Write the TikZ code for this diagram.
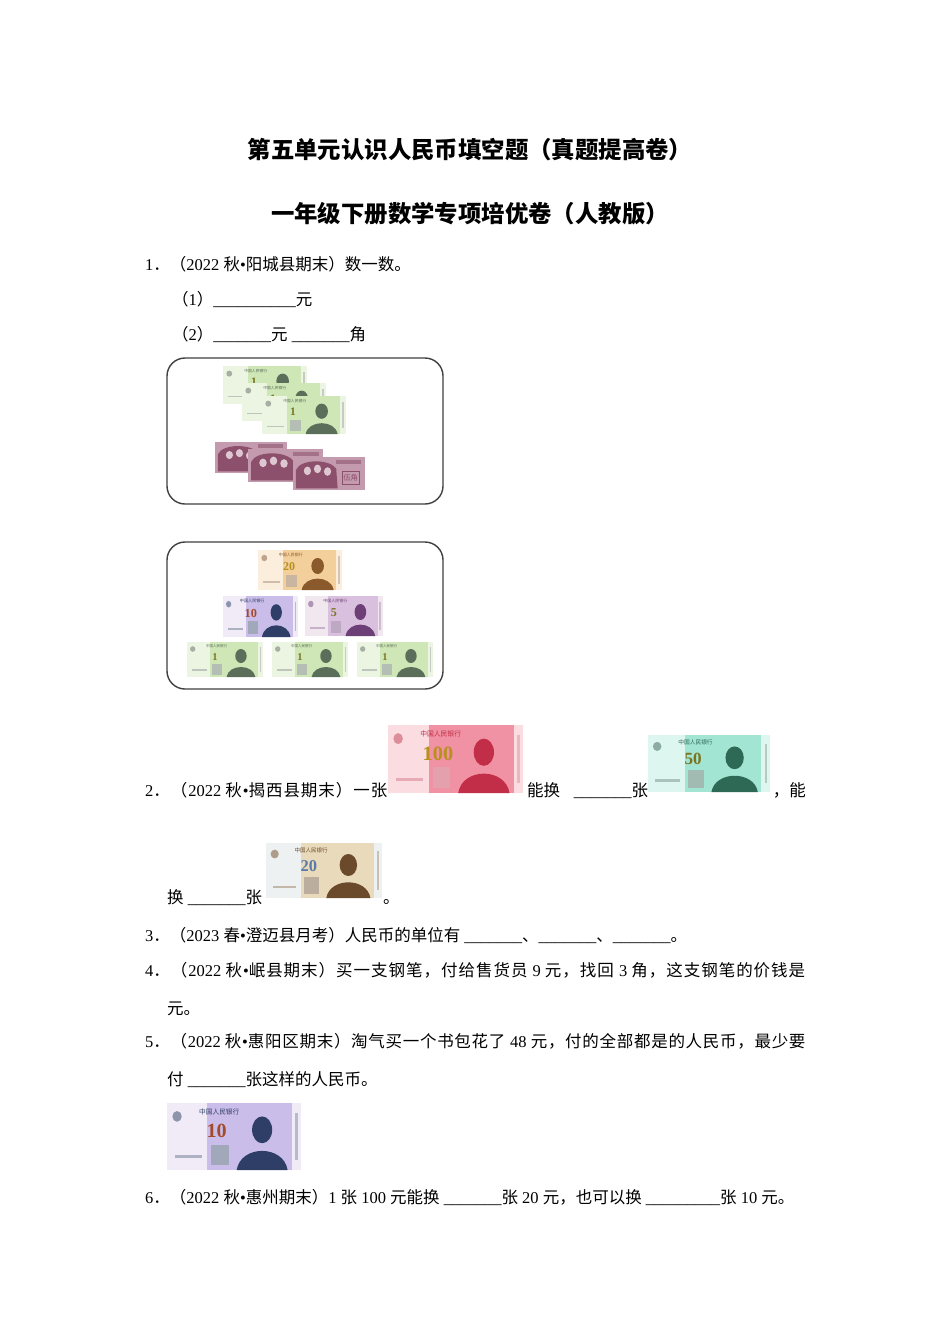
\documentclass[tikz,border=0pt]{standalone}
\usepackage{fontspec}
\setmainfont{Liberation Serif}
\newfontfamily\cj{Noto Sans CJK SC}
\newcommand{\zh}[1]{{\cj #1}}
\def\zs#1{\zsA#1\relax}
\def\zsA#1{\ifx#1\relax\else#1\hskip0pt plus 1pt\expandafter\zsA\fi}
\newcommand{\fsp}{\hskip 4.1pt\relax}
\newcommand{\bl}{\_\_\_\_\_\_\_}
\definecolor{oneL}{HTML}{ECF5E2}\definecolor{oneM}{HTML}{CFE6B6}\definecolor{oneD}{HTML}{5B6E5A}
\definecolor{twL}{HTML}{FBEEDC}\definecolor{twM}{HTML}{F3CF9C}\definecolor{twD}{HTML}{8A5A2C}
\definecolor{tenL}{HTML}{F0EBF7}\definecolor{tenM}{HTML}{CBBDEA}\definecolor{tenD}{HTML}{2F3E66}
\definecolor{fiveL}{HTML}{F1E7EF}\definecolor{fiveM}{HTML}{DAC0DF}\definecolor{fiveD}{HTML}{6D3F77}
\definecolor{hunL}{HTML}{FADCE1}\definecolor{hunM}{HTML}{F092A3}\definecolor{hunD}{HTML}{C22E48}
\definecolor{fifL}{HTML}{DDF6F0}\definecolor{fifM}{HTML}{A2E5D3}\definecolor{fifD}{HTML}{2E6955}
\definecolor{otwL}{HTML}{EEF1F1}\definecolor{otwM}{HTML}{E8DABA}\definecolor{otwD}{HTML}{6A4A2A}
\definecolor{jiaobg}{HTML}{C49AAE}\definecolor{jiaodk}{HTML}{8C4F6C}
\definecolor{gold}{HTML}{B8901E}\definecolor{brick}{HTML}{A24A2A}\definecolor{olive}{HTML}{7A7420}\definecolor{steel}{HTML}{5A7AA8}
% #1 name #2 x #3 y #4 w #5 h #6 light #7 mid #8 dark #9 label
\newcommand{\rmb}[9]{%
\begin{scope}[shift={(#2,#3)},x={(#4pt,0pt)},y={(0pt,-#5pt)}]
\pgfmathsetmacro\numsz{0.3*#5}
\pgfmathsetmacro\topsz{0.1*#5}
\fill[#6] (0,0) rectangle (1,1);
\fill[#7] (0.3,0) rectangle (0.93,1);
\fill[#8!55] (0.075,0.2) ellipse[x radius=0.035,y radius=0.08];
\fill[#8!45] (0.33,0.62) rectangle (0.46,0.93);
\fill[#8] (0.71,0.4) ellipse[x radius=0.075,y radius=0.2];
\fill[#8] (0.52,1) .. controls (0.55,0.62) and (0.87,0.62) .. (0.9,1) -- cycle;
\fill[#8!35] (0.955,0.15) rectangle (0.975,0.85);
\fill[#8!40] (0.06,0.78) rectangle (0.26,0.82);
\node[inner sep=0pt,font=\fontsize{\topsz}{\topsz}\selectfont\cj,text=#8] (#1t) at (0.39,0.13) {中国人民银行};
\node[inner sep=0pt,font=\fontsize{\numsz}{\numsz}\selectfont\bfseries] (#1) at (0.37,0.42) {#9};
\end{scope}}
\newcommand{\jiao}[5]{%
\begin{scope}[shift={(#2,#3)},x={(#4pt,0pt)},y={(0pt,-#5pt)}]
\pgfmathsetmacro\jsz{0.22*#5}
\fill[jiaobg] (0,0) rectangle (1,1);
\fill[jiaodk] (0.04,0.4) .. controls (0.1,0.05) and (0.5,0.05) .. (0.6,0.35) -- (0.62,0.95) -- (0.04,0.95) -- cycle;
\fill[jiaobg!55!white] (0.2,0.42) ellipse[x radius=0.05,y radius=0.13];
\fill[jiaobg!55!white] (0.34,0.36) ellipse[x radius=0.05,y radius=0.13];
\fill[jiaobg!55!white] (0.48,0.44) ellipse[x radius=0.05,y radius=0.13];
\fill[jiaodk!80] (0.6,0.08) rectangle (0.95,0.2);
\draw[jiaodk,line width=0.4pt] (0.68,0.42) rectangle (0.92,0.82);
\node[inner sep=0pt,font=\fontsize{\jsz}{\jsz}\selectfont\cj,text=jiaodk] (#1) at (0.8,0.62) {伍角};
\end{scope}}
\tikzset{txt/.style={anchor=base west,inner sep=0pt,font=\fontsize{16.5}{20}\selectfont},
 ttl/.style={inner sep=0pt,font=\fontsize{23.4}{28}\selectfont\cj\bfseries},
 frame/.style={rounded corners=18pt,line width=1.4pt,draw=black!75}}
\begin{document}
\begin{tikzpicture}[x=1pt,y=-1pt]
\useasboundingbox (0,0) rectangle (950,1344);
\fill[white] (0,0) rectangle (950,1344);
% titles
\node[ttl] (t1) at (470,150) {第五单元认识人民币填空题（真题提高卷）};
\node[ttl] (t2) at (470,214) {一年级下册数学专项培优卷（人教版）};
% Q1
\node[txt] (q1) at (145,270) {1\zh{．（}2022 \zh{秋}•\zh{阳城县期末）数一数。}};
\node[txt] (q1a) at (172,305) {\zh{（}1\zh{）}\_\_\_\_\_\_\_\_\_\_\zh{元}};
\node[txt] (q1b) at (172,340) {\zh{（}2\zh{）}\bl\zh{元} \bl\zh{角}};
\draw[frame] (167,358) rectangle (443,504);
\rmb{a1}{223}{366}{84}{38}{oneL}{oneM}{oneD}{\color{olive}1}
\rmb{a2}{242}{383}{84}{38}{oneL}{oneM}{oneD}{\color{olive}1}
\rmb{a3}{262}{396}{84}{38}{oneL}{oneM}{oneD}{\color{olive}1}
\jiao{j1}{215}{442}{72}{31}
\jiao{j2}{248}{449}{75}{33}
\jiao{j3}{293}{457}{72}{33}
\draw[frame] (167,542) rectangle (443,689);
\rmb{b20}{258}{550}{84}{40}{twL}{twM}{twD}{\color{gold}20}
\rmb{b10}{223}{596}{75}{41}{tenL}{tenM}{tenD}{\color{brick}10}
\rmb{b5}{305}{596}{78}{40}{fiveL}{fiveM}{fiveD}{\color{olive}5}
\rmb{c1}{187}{642}{76}{35}{oneL}{oneM}{oneD}{\color{olive}1}
\rmb{c2}{272}{642}{76}{35}{oneL}{oneM}{oneD}{\color{olive}1}
\rmb{c3}{357}{642}{76}{35}{oneL}{oneM}{oneD}{\color{olive}1}
% Q2
\node[txt] (q2) at (145,796) {\hbox to 243pt{2\zh{\zs{．（}}2022\fsp\zh{\zs{秋}}•\zh{\zs{揭西县期末）一张}}}};
\rmb{n100}{388}{725}{135}{68}{hunL}{hunM}{hunD}{\color{gold}100}
\node[txt] (q2b) at (527,796) {\hbox to 121pt{\zh{\zs{能换}}\hfil\fsp\bl\zh{张}}};
\rmb{n50}{648}{735}{122}{57}{fifL}{fifM}{fifD}{\color{olive}50}
\node[txt,anchor=base east] (q2c) at (806,796) {\zh{，能}};
\node[txt] (q2d) at (167,903) {\zh{换} \bl\zh{张}};
\rmb{n20}{266}{843}{116}{55}{otwL}{otwM}{otwD}{\color{steel}20}
\node[txt] (q2e) at (383,903) {\zh{。}};
% Q3
\node[txt] (q3) at (145,941) {3\zh{．（}2023 \zh{春}•\zh{澄迈县月考）人民币的单位有} \bl\zh{、}\bl\zh{、}\bl\zh{。}};
% Q4
\node[txt] (q4) at (145,976) {\hbox to 661pt{4\zh{\zs{．（}}2022\fsp\zh{\zs{秋}}•\zh{\zs{岷县期末）买一支钢笔，付给售货员}}\fsp 9\fsp\zh{\zs{元，找回}}\fsp 3\fsp\zh{\zs{角，这支钢笔的价钱是}}}};
\node[txt] (q4b) at (167,1014) {\zh{元。}};
% Q5
\node[txt] (q5) at (145,1047) {\hbox to 661pt{5\zh{\zs{．（}}2022\fsp\zh{\zs{秋}}•\zh{\zs{惠阳区期末）淘气买一个书包花了}}\fsp 48\fsp\zh{\zs{元，付的全部都是的人民币，最少要}}}};
\node[txt] (q5b) at (167,1085) {\zh{付} \bl\zh{张这样的人民币。}};
\rmb{n10}{167}{1103}{134}{67}{tenL}{tenM}{tenD}{\color{brick}10}
% Q6
\node[txt] (q6) at (145,1203) {6\zh{．（}2022 \zh{秋}•\zh{惠州期末）}1 \zh{张} 100 \zh{元能换} \bl\zh{张} 20 \zh{元，也可以换} \_\_\_\_\_\_\_\_\_\zh{张} 10 \zh{元。}};
\end{tikzpicture}
\end{document}
